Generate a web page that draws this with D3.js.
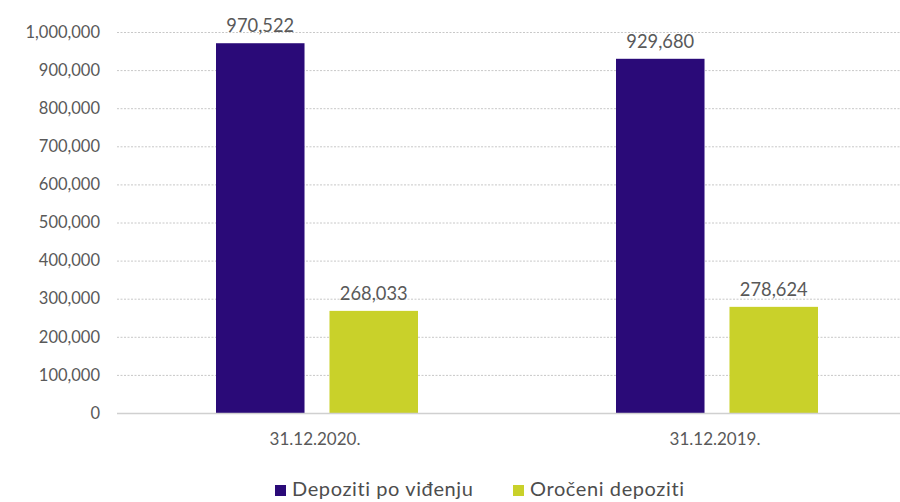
<!DOCTYPE html>
<html><head><meta charset="utf-8">
<script src="https://cdn.jsdelivr.net/npm/d3@7"></script>
<style>body{margin:0;background:#fff;} svg{display:block;} text{font-family:Lato, "Open Sans", sans-serif;}</style>
</head><body><svg id="c" width="900" height="502"></svg>
<script>
const categories = ["31.12.2020.", "31.12.2019."];
const seriesNames = ["Depoziti po viđenju", "Oročeni depoziti"];
const demandDeposits = [970522, 929680];
const termDeposits = [268033, 278624];
const yTicks = [0,100000,200000,300000,400000,500000,600000,700000,800000,900000,1000000];
const colors = ["#2a0a78", "#c9d12a"];

(function(){
const svg = d3.select("#c");
const mLeft = 117, mRight = 917, mTop = 32, mBottom = 413;
const y = d3.scaleLinear().domain([0, 1000000]).range([mBottom, mTop]);
const x0 = d3.scaleBand().domain(categories).range([mLeft, mRight]).paddingInner(0).paddingOuter(0);
const x1 = d3.scaleBand().domain(seriesNames).range([99, 301]).paddingInner(0.22);
const fmt = d3.format(",");

svg.append("g").selectAll("line").data(yTicks.filter(d=>d>0)).join("line")
  .attr("x1", mLeft).attr("x2", 900).attr("y1", d=>y(d)+0.5).attr("y2", d=>y(d)+0.5)
  .attr("stroke", "#c8c8c8").attr("stroke-width", 1).attr("stroke-dasharray", "2,1.5");
const yAxis = d3.axisLeft(y).tickValues(yTicks).tickFormat(fmt).tickSize(0).tickPadding(17);
const ga = svg.append("g").attr("transform", `translate(${mLeft},0)`).call(yAxis);
ga.select(".domain").remove();
ga.selectAll("text").attr("fill", "#595959").style("font-size", "16.5px").style("font-family", "Lato");

const rows = categories.map((c,i)=>({cat:c, vals:[demandDeposits[i], termDeposits[i]]}));
const g = svg.append("g");
rows.forEach(r=>{
  r.vals.forEach((v,j)=>{
    const bx = x0(r.cat) + x1(seriesNames[j]);
    g.append("rect").attr("x", bx).attr("y", y(v)).attr("width", x1.bandwidth()).attr("height", y(0)-y(v)).attr("fill", colors[j]);
    g.append("text").attr("x", bx + x1.bandwidth()/2).attr("y", y(v) - 11).attr("text-anchor","middle")
      .attr("fill","#595959").style("font-size","18.3px").text(fmt(v));
  });
});
svg.append("line").attr("x1", mLeft).attr("x2", 900).attr("y1", y(0)+0.5).attr("y2", y(0)+0.5).attr("stroke","#d0d0d0").attr("stroke-width",1.5);

const xAxis = d3.axisBottom(x0).tickSize(0).tickPadding(20);
const gx = svg.append("g").attr("transform", `translate(-2,${mBottom})`).call(xAxis);
gx.select(".domain").remove();
gx.selectAll("text").attr("fill","#595959").style("font-size","17px").style("font-family","Lato");

const leg = svg.append("g");
const lx = [275, 513];
seriesNames.forEach((s,i)=>{
  leg.append("rect").attr("x", lx[i]).attr("y", 485).attr("width", 11).attr("height", 11).attr("fill", colors[i]);
  leg.append("text").attr("x", lx[i]+17).attr("y", 496).attr("fill","#4d4d4d").style("font-size","20px").style("letter-spacing","0.6px").text(s);
});
})();
</script></body></html>
